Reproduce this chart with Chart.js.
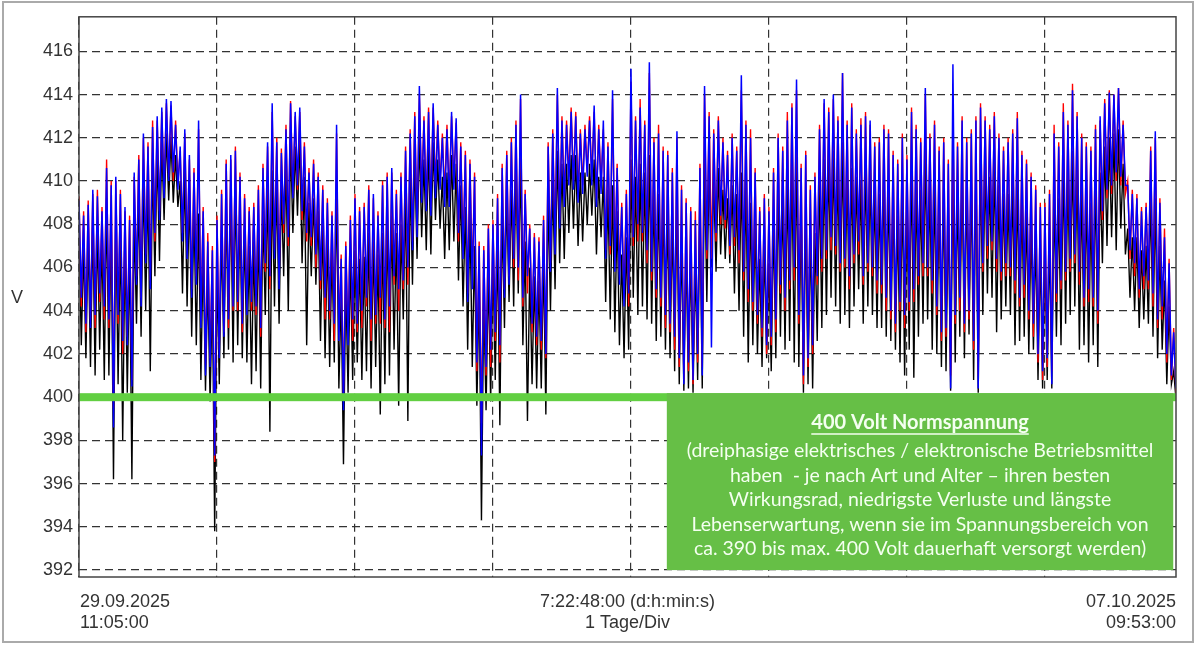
<!DOCTYPE html>
<html>
<head>
<meta charset="utf-8">
<script src="https://cdn.jsdelivr.net/npm/chart.js@4.4.1/dist/chart.umd.min.js"></script>
<style>
  html, body { margin: 0; padding: 0; background: #fff; }
  canvas { display: block; }
</style>
</head>
<body>
<canvas id="myChart" width="1197" height="645"></canvas>
<script>
// one reading every 24 min (1/60 day), starting 29.09.2025 11:05:00
const stepDays = 1 / 60;
const spanDays = 7 + 22.8 / 24;   // 7:22:48:00

// one line per day
const phaseBlue = [
  409.1, 404.6, 408.4, 403.4, 408.9, 403.2, 409.6, 403.8, 409.3, 404.8, 408.6, 404.2, 410.6, 403.6, 409.8, 398.6, 410.2, 403.8, 409.4, 402.6, 408.8, 402.4, 408.2, 400.5, 410.4, 405.2, 411.0, 404.2, 412.2, 406.2, 411.6, 405.0, 412.5, 407.6, 413.0, 408.2, 413.4, 409.2, 413.8, 410.0, 413.7, 410.4, 412.6, 409.6, 411.6, 407.2, 412.4, 406.4, 411.2, 404.6, 410.4, 405.2, 412.8, 403.2, 408.6, 401.0, 407.2, 401.4, 406.8, 397.3,
  408.2, 401.8, 409.4, 402.8, 410.8, 403.6, 411.2, 404.2, 411.4, 404.4, 410.2, 403.4, 409.2, 403.8, 408.6, 404.4, 408.8, 404.2, 409.6, 403.2, 410.6, 406.2, 411.8, 405.6, 413.6, 406.4, 411.8, 405.0, 411.3, 408.0, 412.4, 407.4, 413.6, 409.2, 413.2, 409.8, 413.4, 408.6, 411.6, 407.6, 410.4, 407.4, 410.8, 406.6, 410.2, 405.4, 409.6, 404.6, 409.0, 404.0, 408.4, 403.4, 412.6, 402.6, 406.4, 399.4, 407.0, 402.4, 408.2, 403.6,
  409.2, 403.4, 408.6, 404.0, 408.8, 404.6, 409.6, 403.6, 409.4, 403.8, 408.4, 404.6, 409.8, 403.6, 410.2, 404.2, 410.6, 405.6, 409.4, 405.0, 410.2, 405.4, 411.4, 406.0, 412.2, 406.8, 413.0, 407.4, 414.4, 409.0, 412.8, 408.6, 413.2, 408.4, 413.6, 409.2, 412.6, 409.6, 412.0, 408.8, 412.4, 408.8, 413.2, 409.6, 412.9, 407.6, 411.6, 406.4, 411.2, 404.4, 410.8, 405.0, 410.2, 401.6, 407.0, 397.3, 406.8, 401.4, 407.8, 402.2,
  408.0, 403.0, 409.2, 402.4, 410.6, 404.6, 411.2, 405.2, 411.8, 406.4, 412.6, 406.0, 414.0, 404.6, 409.4, 405.6, 407.8, 403.4, 407.4, 402.8, 407.2, 402.6, 408.2, 402.0, 411.6, 405.8, 412.2, 406.6, 414.3, 407.8, 412.8, 408.8, 412.6, 409.8, 413.2, 409.6, 413.0, 409.0, 412.2, 409.4, 412.4, 410.2, 412.8, 409.8, 413.5, 408.8, 412.4, 409.4, 412.8, 406.4, 411.6, 407.0, 414.2, 405.8, 410.6, 405.2, 408.8, 404.2, 409.4, 404.8,
  415.2, 407.4, 412.8, 408.0, 413.4, 407.6, 412.6, 406.8, 415.5, 405.8, 411.8, 405.0, 412.2, 404.6, 411.4, 403.8, 411.2, 403.4, 410.4, 402.8, 412.3, 401.8, 409.6, 400.6, 409.0, 401.6, 408.6, 400.8, 408.2, 402.0, 410.6, 401.0, 414.4, 406.8, 413.0, 402.3, 412.2, 407.6, 412.8, 408.4, 411.8, 408.2, 411.2, 407.0, 412.0, 407.4, 411.4, 406.8, 414.9, 405.8, 412.6, 405.0, 412.0, 404.4, 410.4, 403.8, 408.6, 403.2, 409.2, 402.4,
  408.6, 402.8, 410.4, 403.6, 412.0, 405.2, 411.4, 404.6, 412.8, 405.4, 413.4, 406.0, 414.7, 403.8, 410.6, 401.0, 411.2, 401.8, 409.6, 402.4, 410.2, 405.6, 412.4, 406.4, 413.8, 406.8, 413.2, 407.4, 414.0, 407.0, 412.8, 406.2, 415.0, 406.4, 412.6, 405.6, 413.4, 406.6, 412.2, 407.2, 412.6, 405.6, 413.0, 406.2, 412.8, 406.0, 411.6, 405.4, 411.8, 405.2, 412.4, 404.6, 412.2, 404.0, 411.2, 403.4, 410.8, 404.4, 412.0, 403.8,
  411.0, 404.4, 413.2, 405.0, 412.4, 405.6, 411.8, 406.2, 414.3, 406.0, 412.0, 405.4, 412.6, 404.2, 411.4, 403.0, 411.8, 403.2, 410.8, 400.4, 415.4, 403.8, 411.6, 404.6, 412.8, 403.4, 411.8, 404.0, 412.2, 402.6, 412.8, 400.4, 413.4, 406.2, 412.8, 407.0, 412.4, 407.2, 413.0, 406.4, 412.0, 405.8, 411.4, 406.2, 411.8, 406.0, 412.2, 405.4, 412.9, 404.6, 411.2, 405.2, 410.8, 404.0, 410.2, 403.4, 409.6, 402.0, 408.8, 401.2,
  408.8, 401.8, 409.4, 400.6, 412.2, 404.8, 411.6, 405.4, 413.2, 405.8, 412.6, 406.4, 414.2, 406.6, 413.0, 405.8, 412.0, 404.6, 411.6, 405.0, 411.4, 404.6, 412.4, 404.0, 413.0, 408.6, 413.6, 409.6, 414.1, 409.8, 414.0, 410.4, 414.3, 410.2, 412.6, 409.8, 409.8, 406.8, 409.4, 406.2, 409.2, 405.0, 408.6, 405.6, 408.8, 405.4, 411.4, 404.8, 412.3, 403.6, 409.0, 404.2, 407.4, 402.0, 406.2, 401.0, 403.0, 400.4
];

const phaseRed = [
  409.3, 404.2, 408.6, 403.0, 409.1, 403.6, 409.4, 403.2, 409.6, 404.4, 408.8, 403.6, 411.0, 403.2, 410.0, 399.5, 410.0, 403.4, 409.6, 402.0, 408.6, 402.8, 408.4, 400.8, 410.2, 405.6, 411.2, 404.6, 412.0, 406.6, 411.8, 405.4, 412.8, 407.2, 412.8, 408.6, 413.2, 409.6, 413.6, 410.2, 413.5, 410.0, 412.8, 409.9, 411.4, 407.6, 412.2, 406.8, 411.0, 405.0, 410.6, 405.6, 412.4, 403.6, 408.8, 401.5, 407.6, 401.8, 407.0, 397.0,
  408.4, 402.2, 409.6, 403.0, 411.0, 403.2, 411.0, 404.0, 411.6, 404.0, 410.4, 403.0, 409.4, 404.2, 408.8, 404.0, 409.0, 403.8, 409.8, 402.8, 410.8, 405.8, 411.6, 405.0, 413.2, 406.8, 412.0, 405.4, 411.5, 407.6, 412.6, 407.0, 413.7, 409.4, 413.0, 409.6, 413.2, 408.2, 411.8, 407.2, 410.6, 407.0, 411.0, 406.0, 410.4, 405.0, 409.8, 403.6, 409.2, 403.6, 408.6, 402.6, 412.2, 403.0, 406.6, 400.0, 407.2, 402.8, 408.4, 402.6,
  409.4, 403.0, 408.8, 403.2, 409.0, 404.2, 409.8, 402.6, 409.2, 403.4, 408.6, 403.4, 410.0, 403.2, 410.4, 403.0, 410.4, 405.2, 409.6, 404.0, 410.4, 405.0, 411.6, 405.2, 412.4, 407.2, 413.2, 407.8, 414.0, 409.4, 413.0, 408.9, 413.4, 408.8, 413.4, 409.8, 412.8, 409.9, 412.2, 409.4, 412.6, 409.2, 413.0, 409.9, 412.7, 407.2, 411.8, 406.9, 411.4, 404.8, 411.0, 405.6, 410.4, 401.2, 407.2, 398.8, 407.0, 401.0, 408.0, 401.4,
  408.2, 402.6, 409.4, 401.6, 410.8, 405.0, 411.4, 405.6, 412.0, 406.0, 412.8, 405.4, 413.8, 404.2, 409.6, 404.8, 408.0, 403.0, 407.6, 402.4, 407.4, 402.2, 408.4, 401.8, 411.8, 406.2, 412.4, 407.2, 414.0, 408.2, 413.0, 409.2, 412.8, 410.2, 413.4, 410.0, 413.2, 409.4, 412.4, 409.8, 412.6, 410.4, 413.0, 410.2, 413.2, 409.2, 412.6, 409.8, 412.4, 406.8, 411.8, 406.6, 413.8, 406.2, 410.8, 405.8, 409.0, 404.6, 409.6, 404.2,
  414.6, 407.0, 413.0, 407.2, 413.8, 407.2, 412.8, 406.2, 415.0, 405.4, 412.0, 404.6, 412.6, 404.2, 411.6, 403.2, 411.4, 403.0, 410.6, 402.2, 412.0, 401.4, 409.8, 400.8, 409.2, 401.2, 408.8, 400.6, 408.6, 401.6, 410.8, 401.4, 414.0, 406.4, 413.2, 406.4, 412.4, 407.2, 413.0, 408.0, 412.0, 407.8, 411.4, 406.6, 412.2, 407.0, 411.6, 406.2, 414.2, 405.4, 412.8, 404.4, 412.4, 404.0, 410.6, 403.4, 408.8, 402.8, 409.4, 402.0,
  408.8, 402.4, 410.6, 403.0, 412.2, 404.8, 411.6, 404.0, 413.2, 405.0, 413.6, 405.4, 414.2, 403.4, 410.8, 400.6, 411.4, 401.4, 409.8, 402.0, 410.4, 405.2, 412.6, 405.8, 413.6, 406.4, 413.4, 406.8, 413.8, 406.6, 413.0, 405.8, 415.0, 406.0, 412.8, 405.0, 413.6, 406.2, 412.4, 406.6, 412.9, 405.2, 413.2, 405.8, 412.6, 405.6, 411.8, 404.8, 412.0, 404.8, 412.6, 404.0, 412.4, 403.6, 411.4, 403.0, 411.0, 404.0, 412.2, 403.2,
  411.2, 404.0, 413.4, 404.4, 412.6, 405.2, 412.0, 405.6, 414.0, 405.6, 412.2, 404.8, 412.8, 403.8, 411.6, 402.6, 412.0, 402.8, 411.0, 401.0, 413.2, 403.4, 411.8, 404.0, 413.0, 403.0, 412.0, 403.6, 412.4, 402.2, 413.0, 401.0, 413.6, 405.8, 413.0, 406.4, 412.6, 406.8, 413.2, 405.8, 412.2, 405.4, 411.6, 405.6, 412.0, 405.6, 412.4, 404.8, 413.2, 404.2, 411.4, 404.6, 411.0, 403.6, 410.4, 402.8, 409.8, 401.6, 409.0, 400.8,
  409.0, 401.4, 409.6, 401.2, 412.6, 404.4, 411.8, 405.0, 413.6, 405.4, 412.8, 405.8, 414.5, 406.2, 413.2, 405.2, 412.2, 404.2, 411.8, 404.4, 411.6, 404.2, 412.6, 403.4, 412.8, 408.2, 413.8, 409.2, 414.2, 409.4, 414.0, 410.0, 414.3, 409.8, 412.8, 409.4, 410.0, 406.4, 409.6, 405.6, 409.4, 404.6, 408.8, 405.0, 409.0, 405.0, 411.6, 404.2, 412.0, 403.2, 409.2, 403.6, 407.8, 401.6, 406.4, 400.8, 403.2, 400.2
];

const phaseBlack = [
  407.8, 402.4, 407.0, 401.8, 407.5, 401.4, 408.2, 401.0, 408.0, 402.2, 407.4, 400.8, 409.2, 401.0, 408.4, 396.2, 408.6, 400.6, 407.8, 398.0, 407.2, 400.2, 406.8, 396.2, 408.5, 403.4, 409.4, 402.8, 410.2, 404.0, 410.0, 401.2, 411.0, 405.6, 411.4, 406.3, 411.8, 408.2, 412.2, 409.1, 412.0, 409.0, 411.2, 408.8, 410.0, 404.8, 410.6, 404.2, 409.6, 402.8, 408.8, 402.4, 408.5, 400.8, 406.8, 400.3, 405.5, 399.8, 405.0, 393.8,
  406.0, 400.6, 407.6, 401.8, 409.0, 402.2, 409.6, 401.6, 410.0, 402.4, 408.6, 401.8, 407.8, 401.6, 407.0, 400.6, 407.2, 401.2, 408.0, 400.4, 408.6, 403.8, 410.2, 398.4, 410.5, 404.2, 410.0, 403.4, 409.8, 405.6, 411.0, 404.0, 412.0, 407.6, 411.6, 408.4, 412.0, 406.2, 410.2, 402.4, 409.0, 405.6, 409.2, 405.2, 408.6, 402.6, 408.0, 401.8, 407.4, 401.4, 406.8, 401.6, 409.8, 400.4, 404.8, 396.9, 405.4, 400.2, 406.4, 400.8,
  406.8, 401.6, 406.4, 400.8, 406.5, 401.2, 407.6, 400.4, 407.2, 401.4, 406.6, 399.2, 407.6, 400.6, 408.2, 401.0, 408.4, 402.2, 407.6, 399.6, 408.0, 403.6, 409.6, 398.9, 410.6, 405.2, 411.2, 406.4, 412.2, 407.4, 411.0, 406.8, 411.6, 406.6, 411.8, 408.2, 411.0, 407.8, 410.2, 406.4, 410.4, 406.8, 411.2, 407.2, 410.8, 405.4, 409.8, 404.2, 408.8, 402.2, 408.6, 401.4, 407.0, 399.6, 405.2, 394.3, 404.6, 399.4, 405.8, 399.8,
  406.4, 400.8, 407.2, 398.7, 408.6, 403.2, 409.4, 404.4, 409.6, 404.2, 410.6, 404.8, 411.0, 402.4, 407.2, 398.9, 406.0, 400.6, 405.6, 400.4, 405.4, 400.4, 406.4, 399.2, 409.4, 404.0, 410.0, 405.0, 411.4, 406.2, 410.8, 406.4, 410.8, 407.6, 411.2, 407.8, 411.2, 407.0, 410.4, 407.2, 410.4, 408.0, 410.8, 408.4, 411.0, 406.6, 410.2, 407.4, 410.2, 404.4, 409.6, 403.6, 409.8, 403.0, 408.6, 402.4, 406.6, 401.8, 407.4, 402.2,
  411.0, 404.6, 410.2, 403.8, 410.8, 404.2, 410.4, 403.6, 411.2, 403.4, 409.6, 402.6, 409.4, 402.8, 409.0, 402.2, 408.6, 401.8, 408.2, 401.2, 409.2, 400.6, 407.4, 400.3, 406.8, 400.4, 406.6, 400.2, 406.2, 400.8, 408.6, 400.4, 411.0, 404.4, 410.8, 406.0, 410.0, 405.8, 410.6, 406.6, 409.6, 406.4, 409.2, 406.2, 409.8, 404.8, 409.4, 404.0, 410.4, 402.8, 410.2, 401.6, 409.0, 402.4, 408.2, 402.0, 406.4, 401.4, 407.0, 401.8,
  406.2, 401.2, 408.2, 401.8, 409.8, 402.8, 409.4, 402.2, 410.2, 402.6, 411.0, 401.6, 411.4, 401.4, 408.6, 400.2, 408.4, 400.6, 407.8, 400.4, 407.6, 402.6, 410.2, 403.2, 411.0, 403.8, 411.2, 404.6, 411.4, 404.2, 410.8, 403.4, 411.8, 403.8, 410.6, 403.2, 410.6, 404.2, 410.2, 405.0, 410.0, 403.4, 410.8, 404.2, 410.4, 403.8, 409.6, 403.2, 409.4, 403.2, 410.2, 402.8, 409.8, 402.6, 409.2, 402.2, 408.4, 401.6, 409.8, 401.0,
  409.0, 402.2, 411.0, 400.9, 410.2, 402.8, 409.6, 403.4, 411.4, 403.6, 410.0, 402.2, 410.0, 402.0, 409.2, 401.4, 409.6, 401.2, 408.8, 400.3, 410.4, 401.6, 409.6, 402.8, 410.6, 401.8, 409.8, 402.9, 410.0, 400.8, 410.6, 400.2, 411.0, 403.8, 410.8, 404.8, 410.2, 404.6, 411.0, 403.0, 409.8, 403.6, 409.4, 404.2, 409.4, 403.8, 410.0, 402.4, 410.0, 402.6, 409.2, 402.8, 408.6, 402.0, 408.0, 402.2, 407.4, 400.8, 406.8, 400.4,
  406.8, 400.8, 407.4, 400.4, 409.6, 402.8, 409.2, 402.4, 410.8, 403.4, 410.4, 403.8, 411.4, 404.2, 410.8, 402.2, 409.8, 402.4, 409.6, 401.6, 409.0, 402.4, 410.4, 401.4, 410.4, 406.2, 411.6, 407.0, 412.0, 407.4, 412.2, 406.8, 412.4, 407.8, 410.8, 406.6, 407.8, 404.6, 407.4, 404.0, 407.4, 403.2, 406.8, 403.6, 407.0, 403.4, 409.4, 402.8, 409.2, 401.8, 407.0, 402.2, 405.4, 400.6, 404.2, 400.6, 401.2, 399.9
];

const yTicks = [392, 394, 396, 398, 400, 402, 404, 406, 408, 410, 412, 414, 416];
const startLabel = ['29.09.2025', '11:05:00'];
const spanLabel = ['7:22:48:00 (d:h:min:s)', '1 Tage/Div'];
const endLabel = ['07.10.2025', '09:53:00'];
const normVolt = 400;
const noteTitle = '400 Volt Normspannung';
const noteLines = [
  '(dreiphasige elektrisches / elektronische Betriebsmittel',
  'haben  - je nach Art und Alter \u2013 ihren besten',
  'Wirkungsrad, niedrigste Verluste und l\u00e4ngste',
  'Lebenserwartung, wenn sie im Spannungsbereich von',
  'ca. 390 bis max. 400 Volt dauerhaft versorgt werden)'
];

function toPoints(values) {
  return values.map((v, i) => ({ x: i * stepDays, y: v }));
}

const axisFont = '18px "Liberation Sans", Arial, sans-serif';
const axisColor = '#333';

const overlay = {
  id: 'overlay',
  beforeDraw(chart) {
    const ctx = chart.ctx;
    ctx.save();
    ctx.fillStyle = '#fff';
    ctx.fillRect(0, 0, chart.width, chart.height);
    ctx.restore();
  },
  afterDraw(chart) {
    const { ctx, chartArea: a, scales: { x, y } } = chart;
    ctx.save();

    // 400 V band
    const y400 = y.getPixelForValue(normVolt);
    ctx.fillStyle = '#62cf42';
    ctx.fillRect(a.left, y400 - 4, a.right - a.left, 8);

    // note box
    const bx1 = x.getPixelForValue(4.26);
    const bx2 = x.getPixelForValue(7.93);
    const by2 = y.getPixelForValue(392);
    ctx.fillStyle = '#66bf46';
    ctx.fillRect(bx1, y400 - 4, bx2 - bx1, by2 - y400 + 4);

    const cx = (bx1 + bx2) / 2;
    ctx.fillStyle = '#f4fff0';
    ctx.strokeStyle = '#f4fff0';
    ctx.textAlign = 'center';
    ctx.textBaseline = 'middle';
    ctx.font = 'bold 20px Lato, "Open Sans", sans-serif';
    ctx.fillText(noteTitle, cx, 423);
    const tw = ctx.measureText(noteTitle).width;
    ctx.lineWidth = 1.4;
    ctx.beginPath();
    ctx.moveTo(cx - tw / 2, 434);
    ctx.lineTo(cx + tw / 2, 434);
    ctx.stroke();
    ctx.font = '19.5px Lato, "Open Sans", sans-serif';
    noteLines.forEach((t, i) => ctx.fillText(t, cx, 451 + i * 24.5));

    // plot frame
    ctx.strokeStyle = '#444';
    ctx.lineWidth = 1.5;
    ctx.strokeRect(a.left, a.top, a.right - a.left, a.bottom - a.top);

    // outer picture border
    ctx.strokeStyle = '#aaa';
    ctx.lineWidth = 2;
    ctx.strokeRect(3, 2, chart.width - 7, chart.height - 5);

    // axis texts
    ctx.fillStyle = axisColor;
    ctx.font = axisFont;
    ctx.textBaseline = 'middle';
    ctx.textAlign = 'center';
    ctx.fillText('V', 17, y.getPixelForValue(404.6));
    ctx.textAlign = 'left';
    startLabel.forEach((t, i) => ctx.fillText(t, a.left + 1, 602 + i * 21));
    ctx.textAlign = 'center';
    spanLabel.forEach((t, i) => ctx.fillText(t, (a.left + a.right) / 2, 602 + i * 21));
    ctx.textAlign = 'right';
    endLabel.forEach((t, i) => ctx.fillText(t, a.right, 602 + i * 21));

    ctx.restore();
  }
};

const ctx = document.getElementById('myChart');

const chart = new Chart(ctx, {
  type: 'line',
  data: {
    datasets: [
      { label: 'L3', data: toPoints(phaseBlue), borderColor: '#0000ff', borderWidth: 1.5 },
      { label: 'L2', data: toPoints(phaseRed), borderColor: '#ff0000', borderWidth: 1.4 },
      { label: 'L1', data: toPoints(phaseBlack), borderColor: '#000000', borderWidth: 1.4 }
    ]
  },
  options: {
    responsive: false,
    animation: false,
    devicePixelRatio: 1,
    layout: { padding: { top: 13, right: 21, left: 0, bottom: 0 } },
    elements: {
      point: { radius: 0 },
      line: { tension: 0 }
    },
    plugins: {
      legend: { display: false },
      tooltip: { enabled: false }
    },
    scales: {
      x: {
        type: 'linear',
        min: 0,
        max: spanDays,
        z: 1,
        ticks: { display: false, stepSize: 1, includeBounds: false },
        grid: { color: '#333', lineWidth: 1.2, drawTicks: false },
        border: { display: false, dash: [8, 5] },
        afterFit(scale) { scale.height = 68; }
      },
      y: {
        min: 391.68,
        max: 417.6,
        z: 1,
        afterBuildTicks(scale) { scale.ticks = yTicks.map(v => ({ value: v })); },
        ticks: { font: { family: '"Liberation Sans", Arial, sans-serif', size: 18 }, color: axisColor, padding: 6 },
        grid: { color: '#333', lineWidth: 1.2, drawTicks: false },
        border: { display: false, dash: [8, 5] },
        afterFit(scale) { scale.width = 79; }
      }
    }
  },
  plugins: [overlay]
});
</script>
</body>
</html>
